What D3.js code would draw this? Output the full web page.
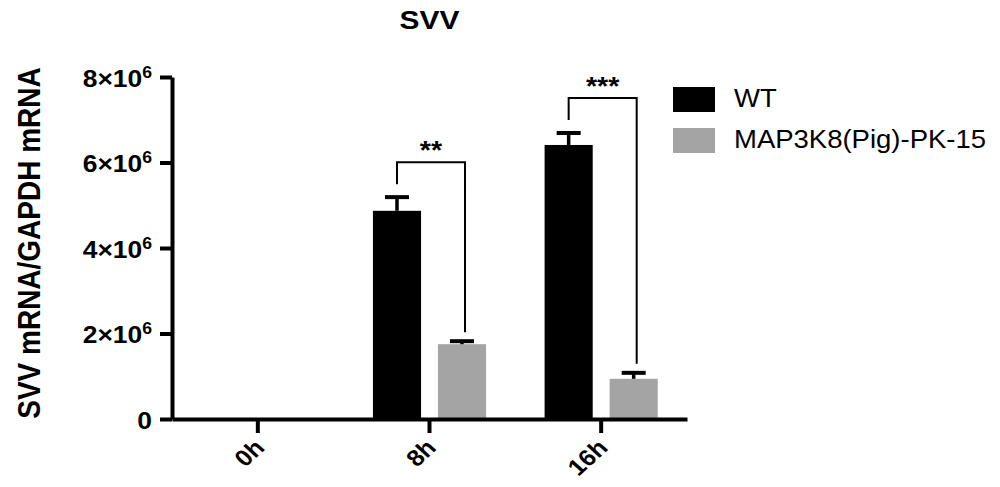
<!DOCTYPE html>
<html>
<head>
<meta charset="utf-8">
<script src="https://cdn.jsdelivr.net/npm/d3@7"></script>
<style>
  body { margin: 0; background: #fff; }
  text { font-family: "Liberation Sans", Arial, sans-serif; fill: #000; }
</style>
</head>
<body>
<div id="chart"></div>
<script>
// dados
var categorias = ["0h", "8h", "16h"];
var series = ["WT", "MAP3K8(Pig)-PK-15"];
var wtMedia = [0, 4.87e6, 6.41e6];
var wtErro = [0, 0.32e6, 0.28e6];
var mapMedia = [0, 1.75e6, 0.94e6];
var mapErro = [0, 0.07e6, 0.14e6];
var yTicks = [0, 2e6, 4e6, 6e6, 8e6];
var signif = ["", "**", "***"];
var cores = ["#000000", "#a4a4a4"];

var W = 1000, H = 487;
var area = { left: 172, right: 687, top: 77, bottom: 419 };
var esticar = 1.1; // o grafico original esta esticado na horizontal

var svg = d3.select("#chart").append("svg")
    .attr("width", W).attr("height", H);
svg.append("rect").attr("width", W).attr("height", H).attr("fill", "#fff");

/*
 * As escalas
 */
var x = d3.scaleBand()
    .domain(categorias)
    .range([area.left, area.right]);

var x1 = d3.scaleBand()
    .domain(series)
    .range([0, x.bandwidth()])
    .paddingInner(0.26)
    .paddingOuter(0.45);

var y = d3.scaleLinear()
    .domain([0, 8e6])
    .range([area.bottom, area.top]);

// montar a tabela de barras
var dados = [];
categorias.forEach(function (c, i) {
  dados.push({ cat: c, serie: series[0], valor: wtMedia[i], erro: wtErro[i] });
  dados.push({ cat: c, serie: series[1], valor: mapMedia[i], erro: mapErro[i] });
});

/*
 * As marcas
 */
svg.append("g").selectAll("rect")
  .data(dados)
  .enter().append("rect")
    .attr("x", d => x(d.cat) + x1(d.serie))
    .attr("width", x1.bandwidth())
    .attr("y", d => y(d.valor))
    .attr("height", d => y(0) - y(d.valor))
    .attr("fill", d => cores[series.indexOf(d.serie)]);

// barras de erro (so para cima)
var comErro = dados.filter(d => d.valor > 0);
var gErro = svg.append("g").attr("stroke", "#000");
gErro.selectAll("line.v")
  .data(comErro)
  .enter().append("line")
    .attr("class", "v")
    .attr("x1", d => x(d.cat) + x1(d.serie) + x1.bandwidth() / 2)
    .attr("x2", d => x(d.cat) + x1(d.serie) + x1.bandwidth() / 2)
    .attr("y1", d => y(d.valor))
    .attr("y2", d => y(d.valor + d.erro))
    .attr("stroke-width", 3.5);
gErro.selectAll("line.cap")
  .data(comErro)
  .enter().append("line")
    .attr("class", "cap")
    .attr("x1", d => x(d.cat) + x1(d.serie) + x1.bandwidth() / 2 - 12)
    .attr("x2", d => x(d.cat) + x1(d.serie) + x1.bandwidth() / 2 + 12)
    .attr("y1", d => y(d.valor + d.erro))
    .attr("y2", d => y(d.valor + d.erro))
    .attr("stroke-width", 4);

/*
 * Os colchetes de significancia
 */
categorias.forEach(function (c, i) {
  if (!signif[i]) return;
  var xa = x(c) + x1(series[0]) + x1.bandwidth() / 2;
  var xb = x(c) + x1(series[1]) + x1.bandwidth() / 2 + 3;
  var ya = y(wtMedia[i] + wtErro[i]) - 13;
  var yb = y(mapMedia[i] + mapErro[i]) - 9;
  var yTopo = Math.min(ya, yb) - 22;
  svg.append("path")
    .attr("d", "M" + xa + "," + ya + "V" + yTopo + "H" + xb + "V" + yb)
    .attr("fill", "none")
    .attr("stroke", "#000")
    .attr("stroke-width", 2);
  svg.append("text")
    .attr("transform", "translate(" + ((xa + xb) / 2) + "," + (yTopo - 3) + ") scale(" + esticar + ",1)")
    .attr("text-anchor", "middle")
    .attr("font-size", 26)
    .attr("font-weight", "bold")
    .text(signif[i]);
});

/*
 * Os eixos
 */
var eixoX = svg.append("g")
    .attr("transform", "translate(0," + area.bottom + ")")
    .call(d3.axisBottom(x).tickSize(14).tickSizeOuter(0));
eixoX.select(".domain").attr("stroke-width", 4);
eixoX.selectAll(".tick line").attr("stroke-width", 4);
eixoX.selectAll(".tick text")
    .attr("y", 0).attr("dy", null)
    .attr("text-anchor", "end")
    .attr("font-size", 23)
    .attr("font-weight", "bold")
    .attr("transform", "translate(8,30) scale(" + esticar + ",1) rotate(-45)");

var eixoY = svg.append("g")
    .attr("transform", "translate(" + area.left + ",0)")
    .call(d3.axisLeft(y).tickValues(yTicks).tickSize(12).tickSizeOuter(0));
eixoY.select(".domain").attr("stroke-width", 4);
eixoY.selectAll(".tick line").attr("stroke-width", 4);
eixoY.selectAll(".tick text").each(function (d) {
  var t = d3.select(this).text("")
      .attr("x", 0).attr("y", 0).attr("dy", null)
      .attr("font-size", 24)
      .attr("font-weight", "bold")
      .attr("transform", "translate(-20,9) scale(" + esticar + ",1)");
  if (d === 0) {
    t.text("0");
  } else {
    t.append("tspan").text((d / 1e6) + "×10");
    t.append("tspan").attr("dy", -9).attr("font-size", 16).text("6");
  }
});
svg.selectAll(".tick text").style("fill", "#000");

svg.append("text")
    .attr("transform", "translate(40," + ((area.top + area.bottom) / 2 - 5) + ") scale(" + esticar + ",1) rotate(-90)")
    .attr("text-anchor", "middle")
    .attr("font-size", 28)
    .attr("font-weight", "bold")
    .text("SVV mRNA/GAPDH mRNA");

// titulo
svg.append("text")
    .attr("transform", "translate(" + ((area.left + area.right) / 2) + ",29) scale(1.15,1)")
    .attr("text-anchor", "middle")
    .attr("font-size", 26)
    .attr("font-weight", "bold")
    .text("SVV");

/*
 * A legenda
 */
var leg = svg.append("g").selectAll("g")
  .data(series)
  .enter().append("g")
    .attr("transform", (d, i) => "translate(673," + (87 + i * 41) + ")");
leg.append("rect")
    .attr("width", 42).attr("height", 25)
    .attr("fill", (d, i) => cores[i]);
leg.append("text")
    .attr("transform", "translate(61,20) scale(" + esticar + ",1)")
    .attr("font-size", 25)
    .text(d => d);
</script>
</body>
</html>
